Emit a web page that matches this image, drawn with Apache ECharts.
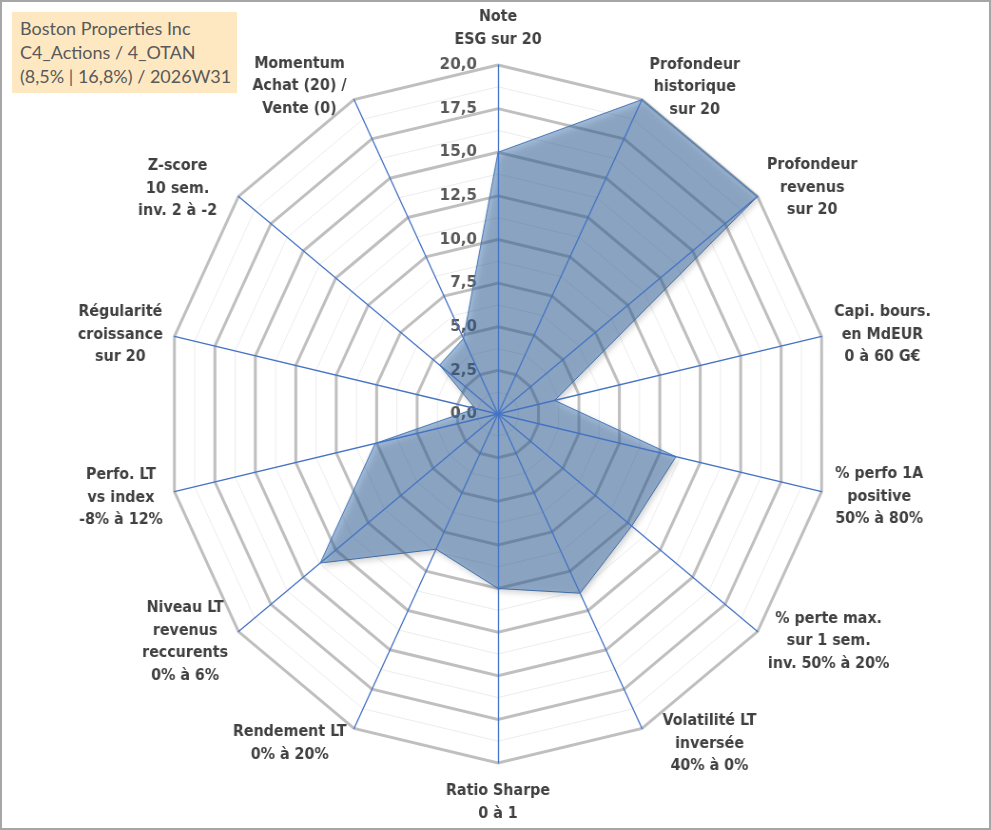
<!DOCTYPE html>
<html lang="fr">
<head>
    <meta charset="UTF-8">
    <title>Boston Properties Inc - radar</title>
    <script src="https://cdn.jsdelivr.net/npm/echarts@6/dist/echarts.min.js"></script>
    <style>
        html, body { margin: 0; padding: 0; background: #fff; }
        #frame { width: 987px; height: 826px; border: 2px solid #a6a6a6; position: relative; overflow: hidden; }
        /* the original plot is a little narrower than it is tall */
        #chart { width: 987px; height: 826px; transform: scaleX(0.951); transform-origin: 496px 0; }
        #title {
            position: absolute; left: 10px; top: 10px; z-index: 2;
            background: #fde8c2; padding: 4px 6px 5px 8px;
            font: 18px/24px Lato, "Open Sans", sans-serif; color: #595959; white-space: pre;
        }
    </style>
</head>
<body>
    <div id="frame">
        <div id="title"></div>
        <div id="chart"></div>
    </div>

    <script>
        // axes, clockwise from top
        const axisNames = [
            "Note\nESG sur 20",
            "Profondeur\nhistorique\nsur 20",
            "Profondeur\nrevenus\nsur 20",
            "Capi. bours.\nen MdEUR\n0 à 60 G€",
            "% perfo 1A\npositive\n50% à 80%",
            "% perte max.\nsur 1 sem.\ninv. 50% à 20%",
            "Volatilité LT\ninversée\n40% à 0%",
            "Ratio Sharpe\n0 à 1",
            "Rendement LT\n0% à 20%",
            "Niveau LT\nrevenus\nreccurents\n0% à 6%",
            "Perfo. LT\nvs index\n-8% à 12%",
            "Régularité\ncroissance\nsur 20",
            "Z-score\n10 sem.\ninv. 2 à -2",
            "Momentum\nAchat (20) /\nVente (0)"
        ];
        const scores = [15, 20, 20, 3.5, 11, 10.3, 11.4, 10, 8.6, 13.7, 7.6, 1.4, 4.5, 4.8];
        const axisMax = 20;
        const majorSplits = 8;   // 0,0 .. 20,0 by 2,5
        const minorSplits = 16;
        const titleLines = ["Boston Properties Inc", "C4_Actions / 4_OTAN", "(8,5% | 16,8%) / 2026W31"];

        // small label nudges (px, right / down) so names sit where Excel put them
        const nameNudge = [
            [0, 0], [5, -7], [5, -5], [7, 0], [8, 4], [6, 6], [18, 10],
            [0, 3], [-5, 10], [-6, 7], [-6, 5], [-6, 0], [-17, -4], [-5, -8]
        ];

        document.getElementById('title').textContent = titleLines.join('\n');

        // echarts radar runs counter-clockwise, so keep first axis and reverse the rest
        const order = [0].concat(axisNames.map((_, i) => i).slice(1).reverse());

        const center = [496, 412];
        const radius = 349;
        const sx = 0.951;
        const labelFont = '"DejaVu Sans", "Liberation Sans", Arial, sans-serif';

        function namePadding(i) {
            const [dx, dy] = nameNudge[i];
            const pad = [0, 0, 0, 0];
            const h = Math.abs(dx) / sx;
            if (i >= 1 && i <= 6) pad[3] = h;          // left aligned labels
            else if (i >= 8) pad[1] = h;               // right aligned labels
            if (i === 7) pad[0] = Math.max(dy, 0);     // top aligned
            else if (i !== 0) {
                if (dy > 0) pad[0] = 2 * dy; else pad[2] = -2 * dy;
            }
            return pad;
        }

        const majorIndicators = order.map((i, k) => {
            const ind = { name: axisNames[i], max: axisMax, min: 0 };
            ind.nameGap = (i === 0 || i === 7) ? 14 : 6;
            ind.nameTextStyle = { padding: namePadding(i) };
            if (k === 0) {
                ind.axisLabel = {
                    show: true, showMinLabel: true, showMaxLabel: true,
                    margin: 22, fontSize: 16, fontWeight: 'bold', color: '#595959',
                    fontFamily: labelFont,
                    formatter: v => v.toFixed(1).replace('.', ',')
                };
            }
            return ind;
        });
        const plainIndicators = order.map(() => ({ name: '', max: axisMax, min: 0 }));

        const chart = echarts.init(document.getElementById('chart'), null, { renderer: 'canvas' });
        chart.setOption({
            animation: false,
            radar: [
                {
                    center: center, radius: radius, startAngle: 90, shape: 'polygon',
                    splitNumber: minorSplits,
                    indicator: plainIndicators,
                    axisName: { show: false },
                    axisLine: { show: false },
                    splitLine: { lineStyle: { color: '#ececec', width: 1 } },
                    splitArea: { show: false }
                },
                {
                    center: center, radius: radius, startAngle: 90, shape: 'polygon',
                    splitNumber: majorSplits,
                    indicator: majorIndicators,
                    axisName: {
                        color: '#404040', fontSize: 15, fontWeight: 'bold', lineHeight: 22.5,
                        fontFamily: labelFont,
                        formatter: name => name.split('\n').map(s => '{c|' + s + '}').join('\n'),
                        rich: {
                            c: {
                                align: 'center', color: '#404040', fontSize: 15, fontWeight: 'bold',
                                lineHeight: 22.5, fontFamily: labelFont
                            }
                        }
                    },
                    axisLine: { show: false },
                    splitLine: { lineStyle: { color: '#bfbfbf', width: 3 } },
                    splitArea: { show: false },
                    axisLabel: { show: false }
                },
                {
                    // blue spokes drawn above the filled area
                    z: 5,
                    center: center, radius: radius, startAngle: 90, shape: 'polygon',
                    splitNumber: majorSplits,
                    indicator: plainIndicators,
                    axisName: { show: false },
                    axisLine: { lineStyle: { color: '#4472c4', width: 1.3 } },
                    splitLine: { show: false },
                    splitArea: { show: false }
                }
            ],
            series: [{
                type: 'radar',
                radarIndex: 1,
                symbol: 'none',
                lineStyle: { color: '#4f7fbf', width: 1 },
                areaStyle: {
                    color: 'rgba(54,111,172,0.66)',
                    shadowBlur: 6, shadowColor: 'rgba(0,0,0,0.4)', shadowOffsetX: 2, shadowOffsetY: 3
                },
                data: [{ value: order.map(i => scores[i]), name: 'Note' }]
            }]
        });
    </script>
</body>
</html>
